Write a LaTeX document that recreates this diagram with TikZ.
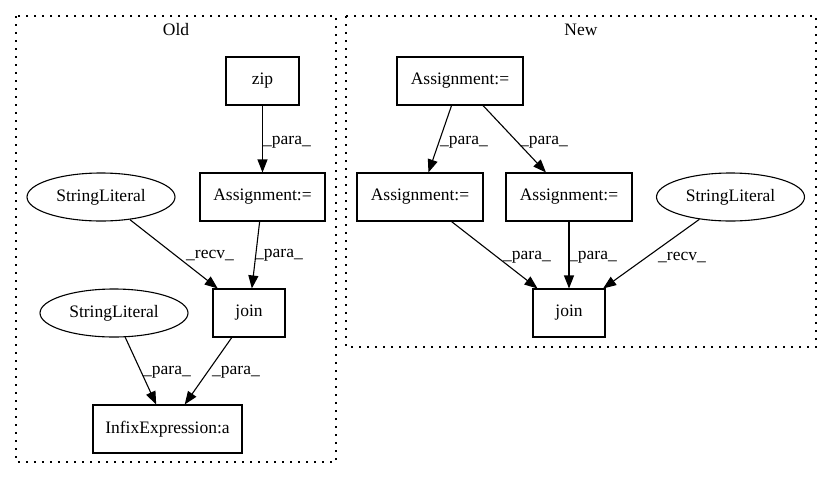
\documentclass[tikz,border=0pt]{standalone}
\usepackage{fontspec}
\setmainfont{Liberation Serif}
\usetikzlibrary{arrows.meta,shapes.geometric}
\begin{document}
\begin{tikzpicture}[x=1pt,y=-1pt,
  every node/.style={font=\fontsize{17.5}{20}\selectfont, inner sep=0pt},
  box/.style={draw, line width=1.1pt, rectangle, minimum height=48pt},
  ell/.style={draw, line width=1.1pt, ellipse, minimum width=148pt, minimum height=48pt},
  edge/.style={draw, line width=1.1pt, -{Triangle[length=13pt,width=10pt]}},
  elab/.style={anchor=west},
  cluster/.style={draw, line width=1.5pt, dash pattern=on 1.6pt off 6.4pt}
]
\useasboundingbox (0,0) rectangle (832,480);
% clusters
\draw[cluster] (16,16) rectangle (336,462);
\draw[cluster] (346,16) rectangle (816,347);
\node (toldt) at (176,30) {Old};
\node (tnewt) at (581,30) {New};
% Old nodes
\node[box, minimum width=73pt] (zip) at (262.5,81) {zip};
\node[box, minimum width=125pt] (oasg) at (262.5,197) {Assignment:=};
\node[ell] (osl1) at (101,197) {StringLiteral};
\node[box, minimum width=72pt] (ojoin) at (249,313) {join};
\node[ell] (osl2) at (114,313) {StringLiteral};
\node[box, minimum width=149pt] (oinf) at (167.5,429) {InfixExpression:a};
% New nodes
\node[box, minimum width=126pt] (nasg) at (460,81) {Assignment:=};
\node[box, minimum width=126pt] (nasgl) at (420,197) {Assignment:=};
\node[box, minimum width=126pt] (nasgr) at (569,197) {Assignment:=};
\node[ell] (nsl) at (730.5,197) {StringLiteral};
\node[box, minimum width=72pt] (njoin) at (569,313) {join};
% Old edges
\draw[edge] (zip) -- (oasg);
\draw[edge] (osl1) -- (ojoin);
\draw[edge] (oasg) -- (ojoin);
\draw[edge] (osl2) -- (oinf);
\draw[edge] (ojoin) -- (oinf);
% New edges
\draw[edge] (nasg) -- (nasgl);
\draw[edge] (nasg) -- (nasgr);
\draw[edge] (nasgl) -- (njoin);
\draw[edge] (nasgr) -- (njoin);
\draw[edge] (nsl) -- (njoin);
% edge labels
\node[elab] (l1) at (263,142) {\_para\_};
\node[elab] (l2) at (186,255) {\_recv\_};
\node[elab] (l3) at (255,255) {\_para\_};
\node[elab] (l4) at (143,372) {\_para\_};
\node[elab] (l5) at (212,372) {\_para\_};
\node[elab] (l6) at (440,142) {\_para\_};
\node[elab] (l7) at (520,142) {\_para\_};
\node[elab] (l8) at (503,257) {\_para\_};
\node[elab] (l9) at (569,257) {\_para\_};
\node[elab] (l10) at (658,257) {\_recv\_};
\end{tikzpicture}
\end{document}
